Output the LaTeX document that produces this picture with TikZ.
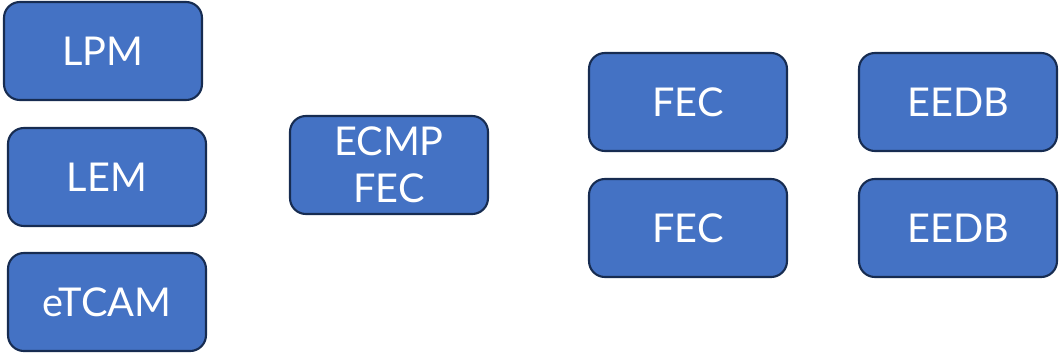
\documentclass[tikz,border=0pt]{standalone}
\usepackage{fontspec}
\setmainfont{Lato}
\usepackage{tikz}
\usetikzlibrary{positioning}
\definecolor{boxblue}{HTML}{4472C4}
\definecolor{boxedge}{HTML}{172C51}

\begin{document}
\begin{tikzpicture}[
    x=0.02cm, y=-0.02cm,
    blk/.style={draw=boxedge, fill=boxblue, line width=1.2pt, rounded corners=9pt,
      minimum width=3.96cm, minimum height=1.96cm, align=center, text=white,
      font=\fontsize{22.6}{26.7}\selectfont},
  ]
    \useasboundingbox (0,0) rectangle (1061,356);
    % ---------- left column ----------
    \node[blk] (lpm)   at (103,51)  {LPM};
    \node[blk] (lem)   at (107,177) {LEM};
    \node[blk] (etcam) at (107,302) {eTCAM};
    % ---------- middle ----------
    \node[blk] (ecmp)  at (389,165) {ECMP\\FEC};
    % ---------- right ----------
    \node[blk] (fecA)  at (688,102) {FEC};
    \node[blk] (fecB)  at (688,228) {FEC};
    \node[blk] (eedbA) at (958,102) {EEDB};
    \node[blk] (eedbB) at (958,228) {EEDB};
  \end{tikzpicture}
\end{document}
